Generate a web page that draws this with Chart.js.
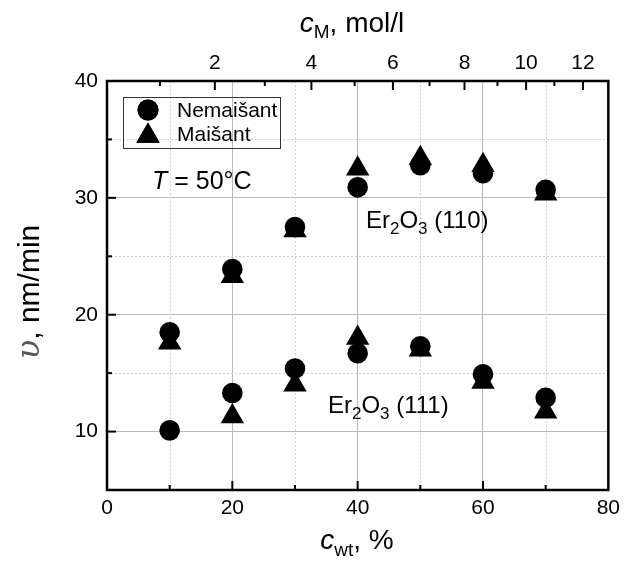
<!DOCTYPE html>
<html><head><meta charset="utf-8">
<style>html,body{margin:0;padding:0;background:#fff;}#wrap{width:626px;height:567px;}</style>
<script src="https://cdn.jsdelivr.net/npm/chart.js@4.4.1/dist/chart.umd.min.js"></script>
</head><body><div id="wrap"><canvas id="c" width="626" height="567"></canvas></div>
<script>
// ---- data ----
const cwt = [10, 20, 30, 40, 50, 60, 70];                       // c_wt, %
const nemaisant110 = [18.5, 23.9, 27.5, 30.9, 32.8, 32.1, 30.7]; // circles, Er2O3 (110)
const maisant110   = [17.6, 23.3, 27.2, 32.5, 33.4, 32.8, 30.35];// triangles, Er2O3 (110)
const nemaisant111 = [10.1, 13.3, 15.4, 16.7, 17.3, 14.9, 12.9]; // circles, Er2O3 (111)
const maisant111   = [null, 11.3, 14.0, 18.0, 17.0, 14.25, 11.7];// triangles, Er2O3 (111)
// top axis: molar concentration ticks and where they fall on the c_wt scale
const cMValues = [1, 2, 3, 4, 5, 6, 7, 8, 9, 10, 11, 12];
const cMAtWt   = [8.45, 17.21, 25.18, 32.62, 39.52, 45.63, 51.47, 57.05, 62.31, 66.88, 71.39, 75.95];

const F = "'Liberation Sans', Arial, sans-serif";
const pts = (xs, ys) => xs.map((x, i) => ({x, y: ys[i]})).filter(p => p.y !== null);

function rich(ctx, parts, x, y, align) {
  let w = 0;
  parts.forEach(p => { ctx.font = p[1]; w += ctx.measureText(p[0]).width; });
  let cx = align === 'center' ? x - w / 2 : x;
  ctx.textBaseline = 'alphabetic'; ctx.textAlign = 'left';
  parts.forEach(p => {
    ctx.font = p[1]; ctx.fillStyle = p[3] || '#000';
    ctx.fillText(p[0], cx, y + (p[2] || 0));
    cx += ctx.measureText(p[0]).width;
  });
}
function seg(ctx, x1, y1, x2, y2) { ctx.beginPath(); ctx.moveTo(x1, y1); ctx.lineTo(x2, y2); ctx.stroke(); }

const deco = {
  id: 'deco',
  beforeDatasetsDraw(chart) {
    const {ctx, chartArea: a, scales: {x, y}} = chart;
    ctx.save();
    ctx.strokeStyle = '#cfcfcf'; ctx.lineWidth = 1; ctx.setLineDash([2, 2]);
    x.ticks.forEach(t => {
      if (t.value % 20 !== 0) { const p = Math.round(x.getPixelForValue(t.value)) + 0.5; seg(ctx, p, a.top, p, a.bottom); }
    });
    y.ticks.forEach(t => {
      if (t.value % 10 !== 0 && t.value > y.min) { const p = Math.round(y.getPixelForValue(t.value)) + 0.5; seg(ctx, a.left, p, a.right, p); }
    });
    ctx.restore();
  },
  afterDraw(chart) {
    const {ctx, chartArea: a, scales: {x, y, x2}} = chart;
    ctx.save();
    // frame
    ctx.strokeStyle = '#000'; ctx.lineWidth = 2.5; ctx.setLineDash([]);
    ctx.strokeRect(a.left, a.top, a.right - a.left, a.bottom - a.top);
    // inward ticks
    ctx.lineWidth = 2;
    x.ticks.forEach(t => {
      if (t.value <= x.min || t.value >= x.max) return;
      const p = x.getPixelForValue(t.value), L = t.value % 20 === 0 ? 9 : 5;
      seg(ctx, p, a.bottom, p, a.bottom - L);
    });
    y.ticks.forEach(t => {
      if (t.value <= y.min || t.value >= y.max) return;
      const p = y.getPixelForValue(t.value), L = t.value % 10 === 0 ? 9 : 5;
      seg(ctx, a.left, p, a.left + L, p);
    });
    x2.ticks.forEach((t, i) => {
      const p = x2.getPixelForValue(t.value), L = cMValues[i] % 2 === 0 ? 9 : 5;
      seg(ctx, p, a.top, p, a.top + L);
    });
    // axis titles
    rich(ctx, [['c', 'italic 28px ' + F], ['M', '19px ' + F, 6], [', mol/l', '28px ' + F]], 352, 32, 'center');
    rich(ctx, [['c', 'italic 28px ' + F], ['wt', '19px ' + F, 7], [', %', '28px ' + F]], 357, 549, 'center');
    ctx.save();
    ctx.translate(39, 292); ctx.rotate(-Math.PI / 2);
    rich(ctx, [['υ', 'italic 32px "DejaVu Serif", serif', 0, '#555'], [', nm/min', '30px ' + F]], 0, 0, 'center');
    ctx.restore();
    // legend
    ctx.lineWidth = 1; ctx.strokeStyle = '#333';
    ctx.strokeRect(123.5, 97.5, 157, 51);
    ctx.fillStyle = '#000'; ctx.strokeStyle = '#000';
    Chart.helpers.drawPoint(ctx, {pointStyle: 'circle', radius: 10.5, borderWidth: 0}, 148, 110);
    ctx.fill();
    Chart.helpers.drawPoint(ctx, {pointStyle: 'triangle', radius: 13.5, borderWidth: 0}, 148, 136);
    ctx.fill();
    ctx.fillStyle = '#000'; ctx.font = '21px ' + F; ctx.textBaseline = 'middle'; ctx.textAlign = 'left';
    ctx.fillText('Nemaišant', 177, 111);
    ctx.fillText('Maišant', 177, 135);
    // annotations
    rich(ctx, [['T', 'italic 25px ' + F], [' = 50°C', '25px ' + F]], 152, 189, 'left');
    rich(ctx, [['Er', '24px ' + F], ['2', '17px ' + F, 6], ['O', '24px ' + F], ['3', '17px ' + F, 6], [' (110)', '24px ' + F]], 366, 228, 'left');
    rich(ctx, [['Er', '24px ' + F], ['2', '17px ' + F, 6], ['O', '24px ' + F], ['3', '17px ' + F, 6], [' (111)', '24px ' + F]], 328, 413, 'left');
    ctx.restore();
  }
};

new Chart(document.getElementById('c'), {
  type: 'scatter',
  data: {
    datasets: [
      {label: 'Nemaišant (110)', data: pts(cwt, nemaisant110), pointStyle: 'circle', pointRadius: 10.3, backgroundColor: '#000', borderWidth: 0, xAxisID: 'x', yAxisID: 'y'},
      {label: 'Nemaišant (111)', data: pts(cwt, nemaisant111), pointStyle: 'circle', pointRadius: 10.3, backgroundColor: '#000', borderWidth: 0, xAxisID: 'x', yAxisID: 'y'},
      {label: 'Maišant (110)', data: pts(cwt, maisant110), pointStyle: 'triangle', pointRadius: 13.5, backgroundColor: '#000', borderWidth: 0, xAxisID: 'x', yAxisID: 'y'},
      {label: 'Maišant (111)', data: pts(cwt, maisant111), pointStyle: 'triangle', pointRadius: 13.5, backgroundColor: '#000', borderWidth: 0, xAxisID: 'x', yAxisID: 'y'}
    ]
  },
  options: {
    responsive: false, animation: false, devicePixelRatio: 1,
    layout: {padding: 0},
    plugins: {legend: {display: false}, tooltip: {enabled: false}},
    scales: {
      x: {
        type: 'linear', position: 'bottom', min: 0, max: 80,
        ticks: {stepSize: 10, autoSkip: false, maxRotation: 0, padding: 6, color: '#000',
          font: {family: F, size: 21}, callback: v => (v % 20 === 0 ? String(v) : '')},
        grid: {drawTicks: false, lineWidth: 1,
          color: c => (c.tick && c.tick.value % 20 === 0 && c.tick.value > 0 && c.tick.value < 80) ? '#b8b8b8' : 'rgba(0,0,0,0)'},
        border: {display: false},
        afterFit: s => { s.height = 77; }
      },
      x2: {
        type: 'linear', position: 'top', min: 0, max: 80,
        afterBuildTicks: s => { s.ticks = cMAtWt.map(v => ({value: v})); },
        ticks: {autoSkip: false, maxRotation: 0, padding: 5, color: '#000', font: {family: F, size: 21},
          callback: (v, i) => (cMValues[i] % 2 === 0 ? String(cMValues[i]) : '')},
        grid: {display: false, drawTicks: false},
        border: {display: false},
        afterFit: s => { s.height = 81; }
      },
      y: {
        type: 'linear', position: 'left', min: 5, max: 40,
        ticks: {stepSize: 5, autoSkip: false, padding: 9, color: '#000', font: {family: F, size: 21},
          callback: v => (v % 10 === 0 ? String(v) : '')},
        grid: {drawTicks: false, lineWidth: 1,
          color: c => (c.tick && c.tick.value % 10 === 0 && c.tick.value > 5 && c.tick.value < 40) ? '#b8b8b8' : 'rgba(0,0,0,0)'},
        border: {display: false},
        afterFit: s => { s.width = 107; }
      },
      y2: {
        type: 'linear', position: 'right', min: 5, max: 40,
        ticks: {display: false}, grid: {display: false, drawTicks: false}, border: {display: false},
        afterFit: s => { s.width = 17; }
      }
    }
  },
  plugins: [deco]
});
</script></body></html>
